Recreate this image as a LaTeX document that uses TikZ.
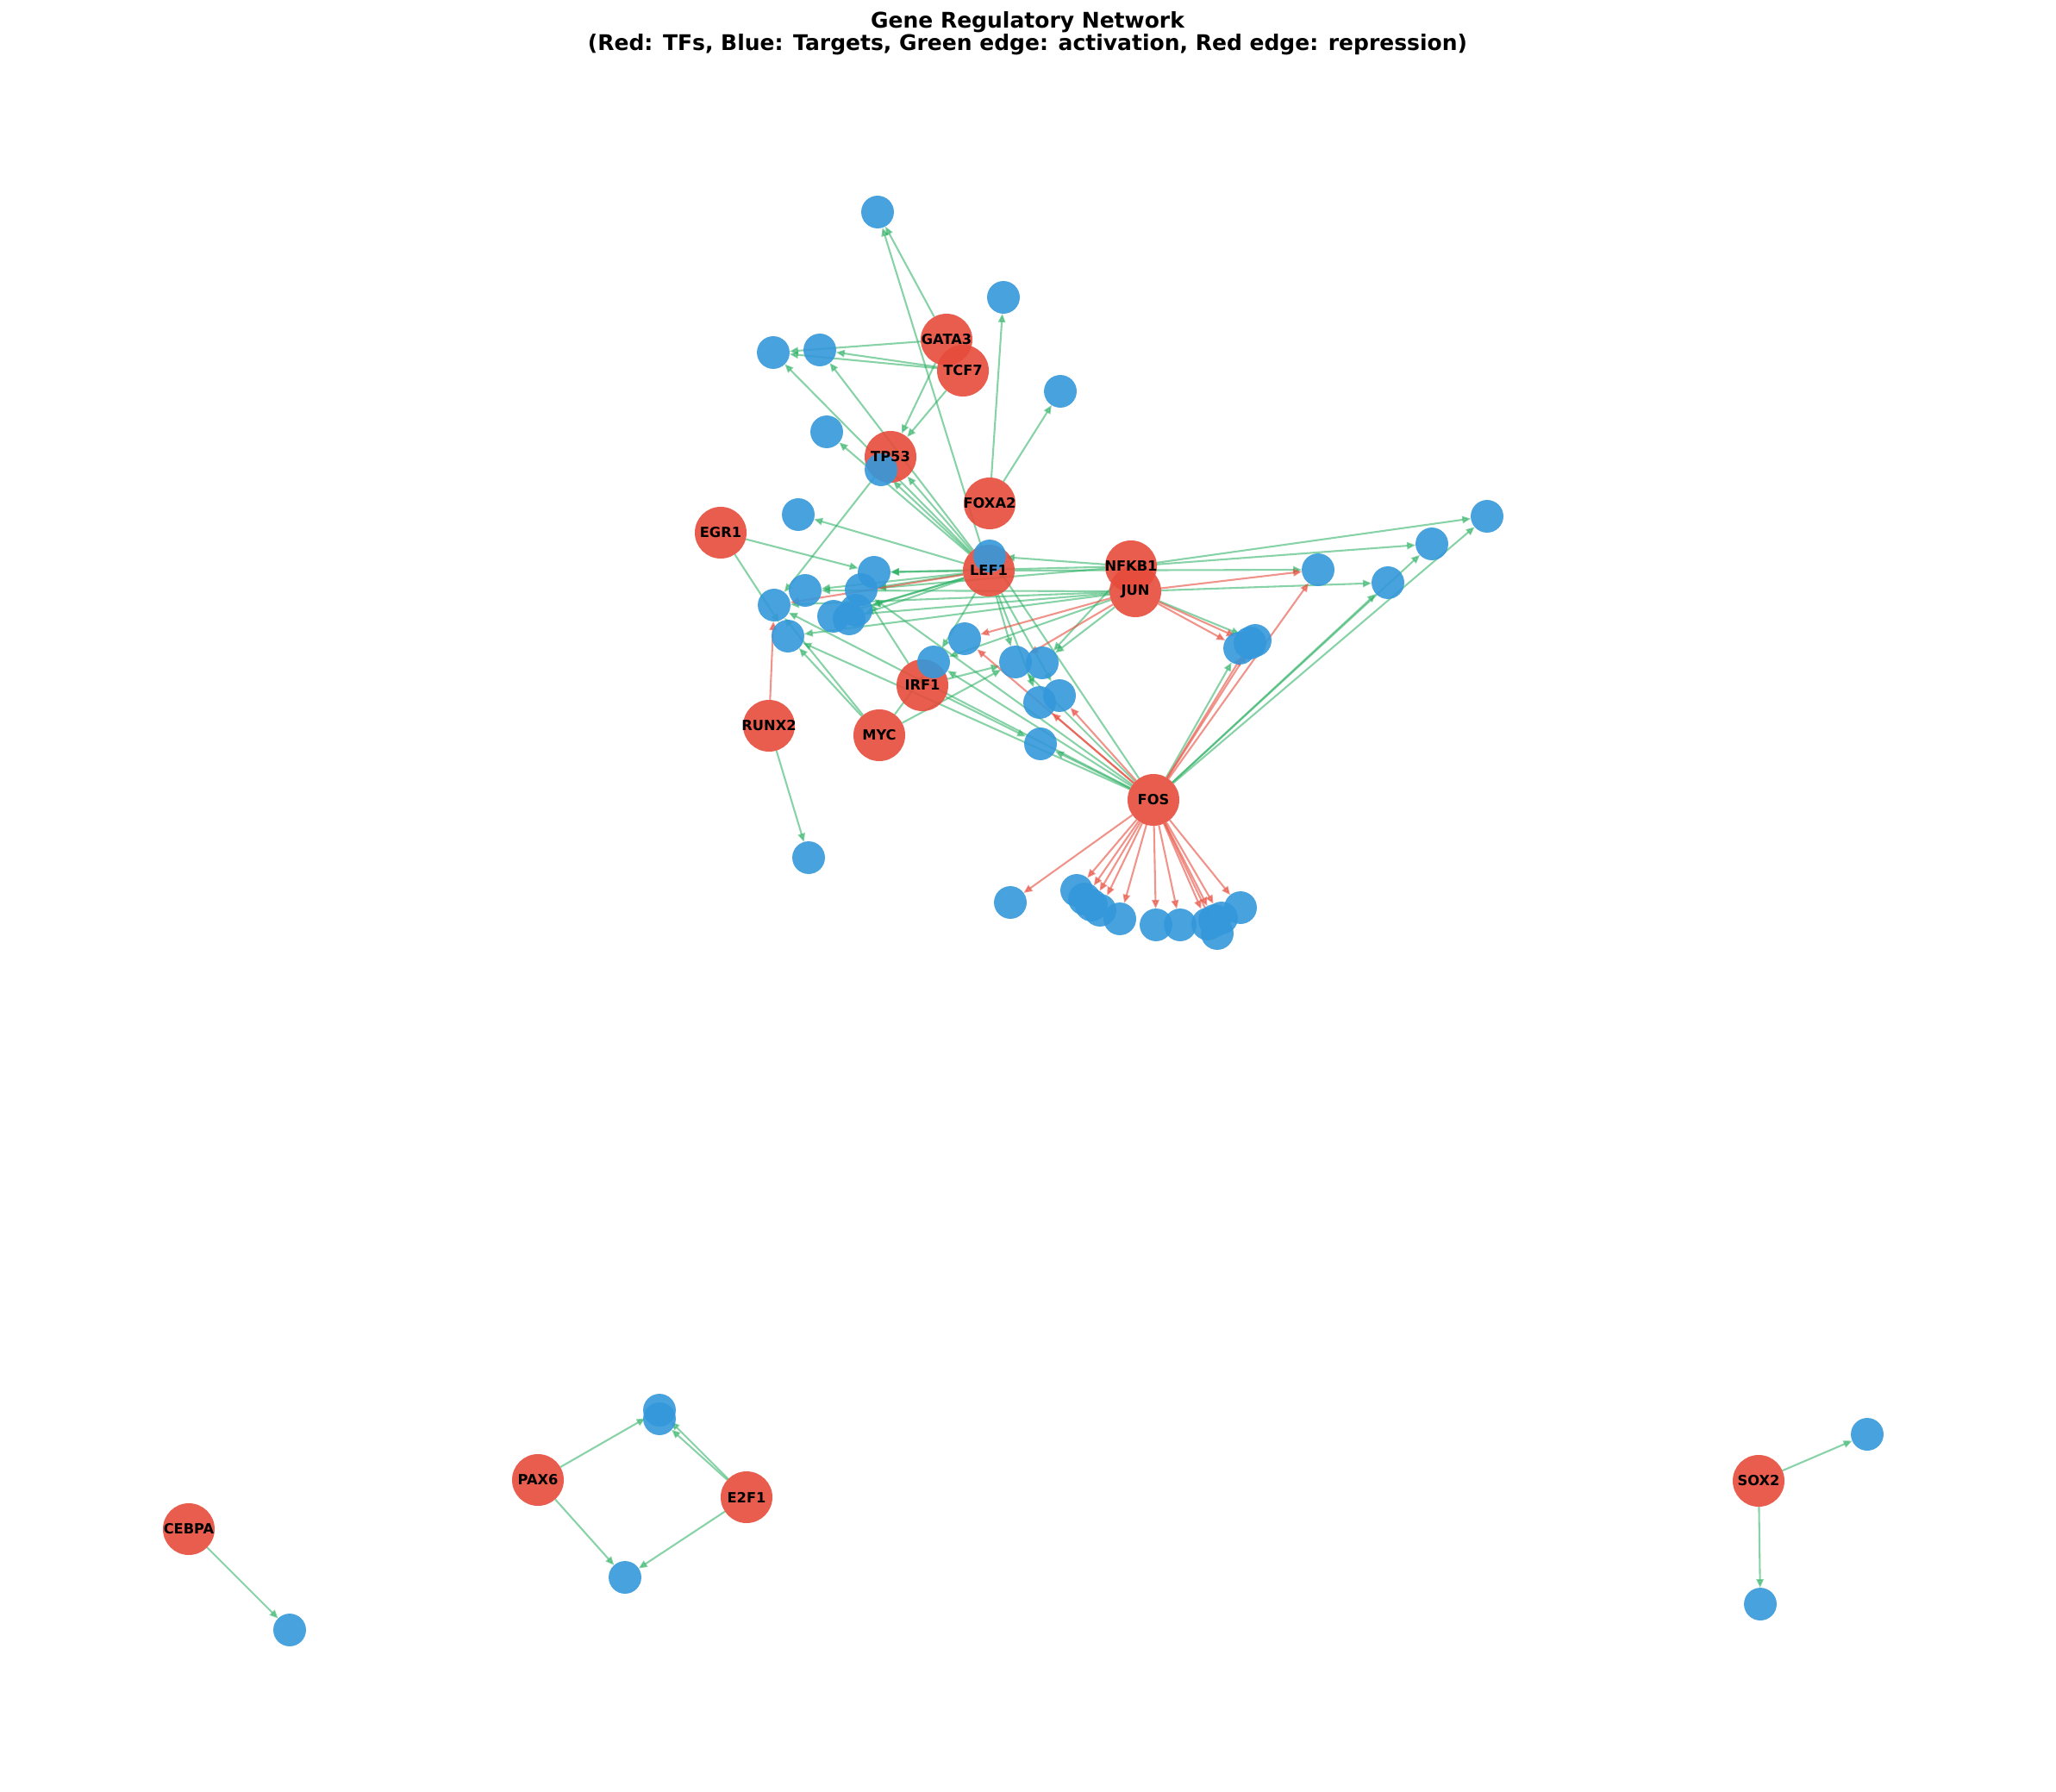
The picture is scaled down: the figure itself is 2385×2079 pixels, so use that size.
\documentclass[tikz,border=0pt]{standalone}
\usepackage{fontspec}
\setmainfont{DejaVu Sans}
\usetikzlibrary{arrows.meta}
\definecolor{tfred}{HTML}{E74C3C}
\definecolor{tgblue}{HTML}{3498DB}
\definecolor{actg}{HTML}{27AE60}
\definecolor{repr}{HTML}{E74C3C}
\pgfdeclarelayer{edges}
\pgfsetlayers{edges,main}
\begin{document}
\begin{tikzpicture}[x=0.48pt,y=-0.48pt,
 tf/.style={circle,fill=tfred,fill opacity=0.9,minimum size=28.8pt,inner sep=0pt,outer sep=0pt},
 tg/.style={circle,fill=tgblue,fill opacity=0.9,minimum size=18.2pt,inner sep=0pt,outer sep=0pt},
 lbl/.style={font=\bfseries\fontsize{7.8}{8.4}\selectfont,text=black,inner sep=0pt},
 act/.style={draw=actg,opacity=0.55,line width=1pt,-{Triangle[length=4.8pt,width=4pt]}},
 rep/.style={draw=repr,opacity=0.6,line width=1pt,-{Triangle[length=4.8pt,width=4pt]}}]
\useasboundingbox (0,0) rectangle (2385,2079);
% transcription factors
\foreach \n/\x/\y in {GATA3/1098/394, TCF7/1117/430, TP53/1033/530, FOXA2/1148/584, EGR1/836/618,
  LEF1/1147/662, NFKB1/1312/657, JUN/1317/686, IRF1/1070/795, RUNX2/892/842, MYC/1020/853,
  FOS/1338/928, PAX6/624/1717, E2F1/866/1737, CEBPA/219/1774, SOX2/2040/1718}
  \node[tf] (\n) at (\x,\y) {};
% targets
\foreach \n/\x/\y in {b1/1018/246, b2/1164/345, b3/897/409, b4/951/406, b5/1230/454, b6/959/501,
  b7/1022/545, b8/926/597, b9/1148/645, b10/1014/664, b11/934/685, b12/999/684, b13/898/702,
  b14/967/715, b15/993/708, b16/985/718, b17/914/738, b18/1119/741, b19/1083/768, b20/1178/768,
  b21/1209/769, b22/1206/815, b23/1229/807, b24/1207/863, b25/1529/661, b26/1661/631,
  b27/1725/599, b28/1610/676, b29a/1438/752, b29b/1450/746, b29c/1456/743, b30/938/995,
  f1/1172/1047, f2/1249/1033, f3/1258/1043, f4/1266/1050, f5/1276/1056, f6/1299/1066,
  f7/1341/1073, f8/1369/1073, f9/1401/1072, f10/1409/1068, f11/1417/1065, f12/1412/1083,
  f13/1439/1053, p1/765/1636, p2/765/1646, p3/725/1830, c1/336/1891, s1/2166/1664, s2/2042/1861}
  \node[tg] (\n) at (\x,\y) {};
% labels
\foreach \n in {GATA3,TCF7,TP53,FOXA2,EGR1,LEF1,NFKB1,JUN,IRF1,RUNX2,MYC,FOS,PAX6,E2F1,CEBPA,SOX2}
  \node[lbl] (\n-t) at (\n) {\n};
% title
\node[font=\bfseries\fontsize{12}{12.5}\selectfont,align=center] (title) at (1192,39)
  {Gene Regulatory Network\\(Red: TFs, Blue: Targets, Green edge: activation, Red edge: repression)};
\begin{pgfonlayer}{edges}
\fill[white] (0,0) rectangle (2385,2079);
\foreach \s/\t in {GATA3/b1, GATA3/b3, GATA3/TP53, TCF7/b3, TCF7/b4, TCF7/TP53, TP53/b13,
  FOXA2/b2, FOXA2/b5, EGR1/b10, EGR1/b17, RUNX2/b30, MYC/b17, MYC/b13, MYC/b19, MYC/b20,
  IRF1/b12, IRF1/b24, IRF1/b20,
  LEF1/b1, LEF1/b3, LEF1/b4, LEF1/b6, LEF1/TP53, LEF1/b7, LEF1/b8, LEF1/b10, LEF1/b11, LEF1/b12,
  LEF1/b14, LEF1/b15, LEF1/b16, LEF1/b19, LEF1/b20, LEF1/b22, LEF1/b23, LEF1/b25,
  NFKB1/b9, NFKB1/b10, NFKB1/b12, NFKB1/b26, NFKB1/b27, NFKB1/b21,
  JUN/b11, JUN/b14, JUN/b17, JUN/b13, JUN/b19, JUN/b21, JUN/b28, JUN/b29c,
  FOS/b9, FOS/b12, FOS/b13, FOS/b17, FOS/b19, FOS/b24, FOS/b20, FOS/b26, FOS/b27, FOS/b28, FOS/b29a,
  PAX6/p1, PAX6/p3, E2F1/p1, E2F1/p2, E2F1/p3, CEBPA/c1, SOX2/s1, SOX2/s2}
  \draw[act] (\s) -- (\t);
\foreach \s/\t in {RUNX2/b13, LEF1/b13, JUN/b18, JUN/b20, JUN/b25, JUN/b29a, JUN/b29b,
  FOS/b18, FOS/b22, FOS/b23, FOS/b25, FOS/b29b, FOS/b29c,
  FOS/f1, FOS/f2, FOS/f3, FOS/f4, FOS/f5, FOS/f6, FOS/f7, FOS/f8, FOS/f9, FOS/f10, FOS/f11, FOS/f12, FOS/f13}
  \draw[rep] (\s) -- (\t);
\end{pgfonlayer}
\end{tikzpicture}
\end{document}
